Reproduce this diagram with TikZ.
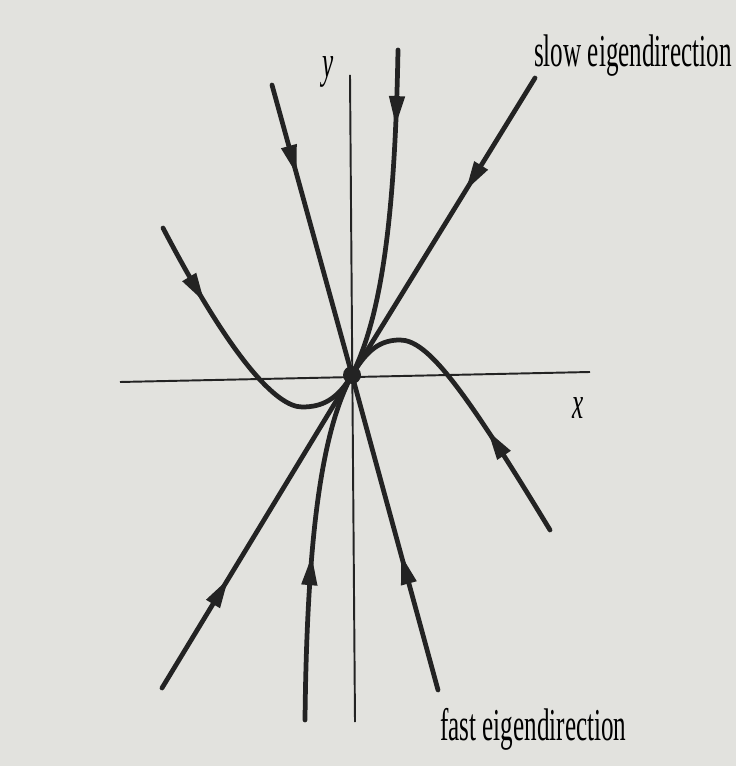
\documentclass[tikz,border=0pt]{standalone}
\usepackage{fontspec}
\setmainfont{Liberation Serif}
\usetikzlibrary{arrows.meta,decorations.markings}
\definecolor{paper}{RGB}{226,226,222}
\definecolor{ink}{RGB}{35,35,35}
\tikzset{
  traj/.style={ink, line width=2.7pt, line cap=round},
  axis/.style={ink, line width=1.1pt},
  arrowat/.style={postaction={decorate},
    decoration={markings, mark=at position #1 with {\arrow{Triangle[length=17pt,width=8.5pt]}}}},
  lbl/.style={font=\fontsize{26}{30}\selectfont, xscale=0.55, inner sep=0pt}
}

\begin{document}
\begin{tikzpicture}[x=0.02cm, y=0.02cm]
    % paper
    \fill[paper] (-352,-391) rectangle (384,375);
    \useasboundingbox (-352,-391) rectangle (384,375);
    \coordinate (O) at (0,0);

    % axes
    \draw[axis] (-232,-7) -- (238,3);
    \draw[axis] (-2,300) -- (3,-347);
    \node[lbl, font=\fontsize{26}{30}\selectfont\itshape, anchor=base] (ylab) at (-24,297) {y};
    \node[lbl, font=\fontsize{26}{30}\selectfont\itshape] (xlab) at (226,-33) {x};

    % slow eigendirection
    \draw[traj, arrowat=0.38] (183,297) -- (O);
    \draw[traj, arrowat=0.35] (-190,-313) -- (O);
    \node[lbl, anchor=base west] (slow) at (182,308) {slow eigendirection};

    % fast eigendirection
    \draw[traj, arrowat=0.31] (-80,290) -- (O);
    \draw[traj, arrowat=0.43] (86,-315) -- (O);
    \node[lbl, anchor=base west] (fast) at (88,-365) {fast eigendirection};

    % curved trajectories
    \draw[traj, arrowat=0.23] (46,325) .. controls (43,160) and (30,60) .. (O);
    \draw[traj, arrowat=0.47] (-47,-345) .. controls (-45,-160) and (-30,-55) .. (O);
    \draw[traj, arrowat=0.29] (-189,147) .. controls (-120,15) and (-75,-32) .. (-50,-32)
        .. controls (-30,-32) and (-15,-25) .. (O);
    \draw[traj, arrowat=0.38] (198,-155) .. controls (110,-10) and (75,35) .. (48,35)
        .. controls (28,35) and (15,25) .. (O);

    % fixed point
    \fill[ink] (O) circle (0.18cm);
\end{tikzpicture}
\end{document}
